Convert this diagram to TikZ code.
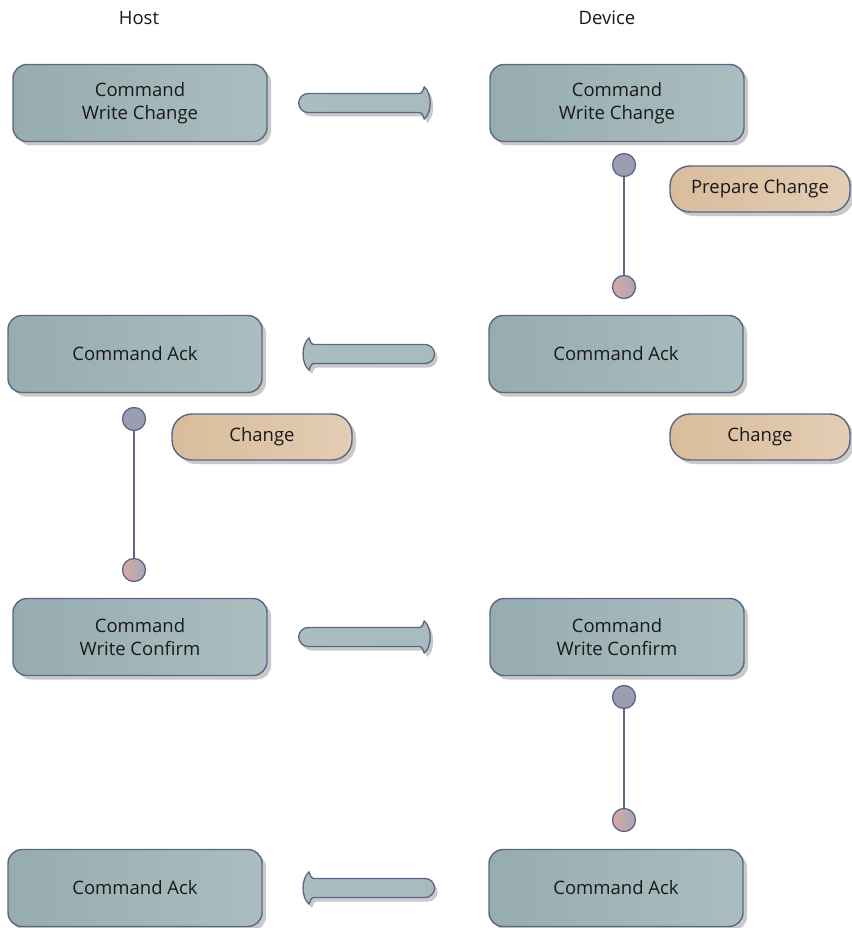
\documentclass[tikz,border=0pt]{standalone}
\usepackage{fontspec}
\setmainfont{Open Sans}
\usetikzlibrary{shadows}

\definecolor{edgeC}{HTML}{5C6585}
\definecolor{boxL}{HTML}{97ACAF}
\definecolor{boxR}{HTML}{AABEC0}
\definecolor{taskL}{HTML}{D9BC9C}
\definecolor{taskR}{HTML}{E3CDB4}
\definecolor{dotA}{HTML}{9A9EB4}
\definecolor{dotL}{HTML}{D7A9A1}
\definecolor{dotR}{HTML}{A8A8BA}
\definecolor{shadowC}{HTML}{C9C9C9}

\tikzset{
	cmd/.style={draw=edgeC, line width=1.4pt, rounded corners=14pt,
		left color=boxL, right color=boxR, align=center,
		minimum width=254pt, minimum height=77pt, inner sep=0pt,
		drop shadow={shadow xshift=4pt, shadow yshift=-4pt, fill=shadowC, opacity=1}},
	task/.style={draw=edgeC, line width=1.4pt, rounded corners=20pt,
		left color=taskL, right color=taskR,
		minimum width=180pt, minimum height=46pt, inner sep=0pt,
		drop shadow={shadow xshift=4pt, shadow yshift=-4pt, fill=shadowC, opacity=1}},
	dotstart/.style={circle, draw=edgeC, line width=1.3pt, fill=dotA,
		minimum size=23pt, inner sep=0pt},
	dotend/.style={circle, draw=edgeC, line width=1.3pt, left color=dotL, right color=dotR,
		minimum size=23pt, inner sep=0pt},
	link/.style={draw=edgeC, line width=1.5pt},
	pics/fatarrow/.style={code={
		\filldraw[draw=edgeC, line width=1.3pt, left color=boxR, right color=boxR!85!boxL,
			drop shadow={shadow xshift=3pt, shadow yshift=-4pt, fill=shadowC, opacity=1}]
			(-57,-9.5) -- (54,-9.5) .. controls (57,-9.5) and (58,-13) .. (59,-16)
			.. controls (67,-10) and (67,10) .. (59,16)
			.. controls (58,13) and (57,9.5) .. (54,9.5) -- (-57,9.5)
			arc[start angle=90, end angle=270, radius=9.5] -- cycle;
	}}
}

\begin{document}
\begin{tikzpicture}[x=1pt, y=-1pt, every node/.style={font=\fontsize{18.5}{23}\selectfont, text=black!90}]
	\useasboundingbox (0,0) rectangle (851,928);

	% lane titles
	\node (host) at (139,18) {Host};
	\node (device) at (607,18) {Device};

	% messages
	\node[cmd] (hcw) at (140,103) {Command\\Write Change};
	\node[cmd] (dcw) at (617,103) {Command\\Write Change};
	\node[cmd] (hack) at (135,354) {Command Ack};
	\node[cmd] (dack) at (616,354) {Command Ack};
	\node[cmd] (hcc) at (140,637) {Command\\Write Confirm};
	\node[cmd] (dcc) at (617,637) {Command\\Write Confirm};
	\node[cmd] (hack2) at (135,888) {Command Ack};
	\node[cmd] (dack2) at (616,888) {Command Ack};

	% actions
	\node[task] (prep) at (760,189) {Prepare Change};
	\node[task] (hchg) at (262,437) {Change};
	\node[task] (dchg) at (760,437) {Change};

	% waits
	\foreach \n / \x / \ya / \yb in {
	d1/624/165/287,
	h1/134/419/570,
	d2/624/697/820}
	{
		\node[dotstart] (\n a) at (\x,\ya) {};
		\node[dotend] (\n b) at (\x,\yb) {};
		\path[link] (\n a) -- (\n b);
	};

	% transfers
	\path (hcw.east) -- (dcw.west) pic[pos=.44, sloped, allow upside down] {fatarrow};
	\path (dack.west) -- (hack.east) pic[pos=.533, sloped, allow upside down] {fatarrow};
	\path (hcc.east) -- (dcc.west) pic[pos=.44, sloped, allow upside down] {fatarrow};
	\path (dack2.west) -- (hack2.east) pic[pos=.533, sloped, allow upside down] {fatarrow};
\end{tikzpicture}
\end{document}
